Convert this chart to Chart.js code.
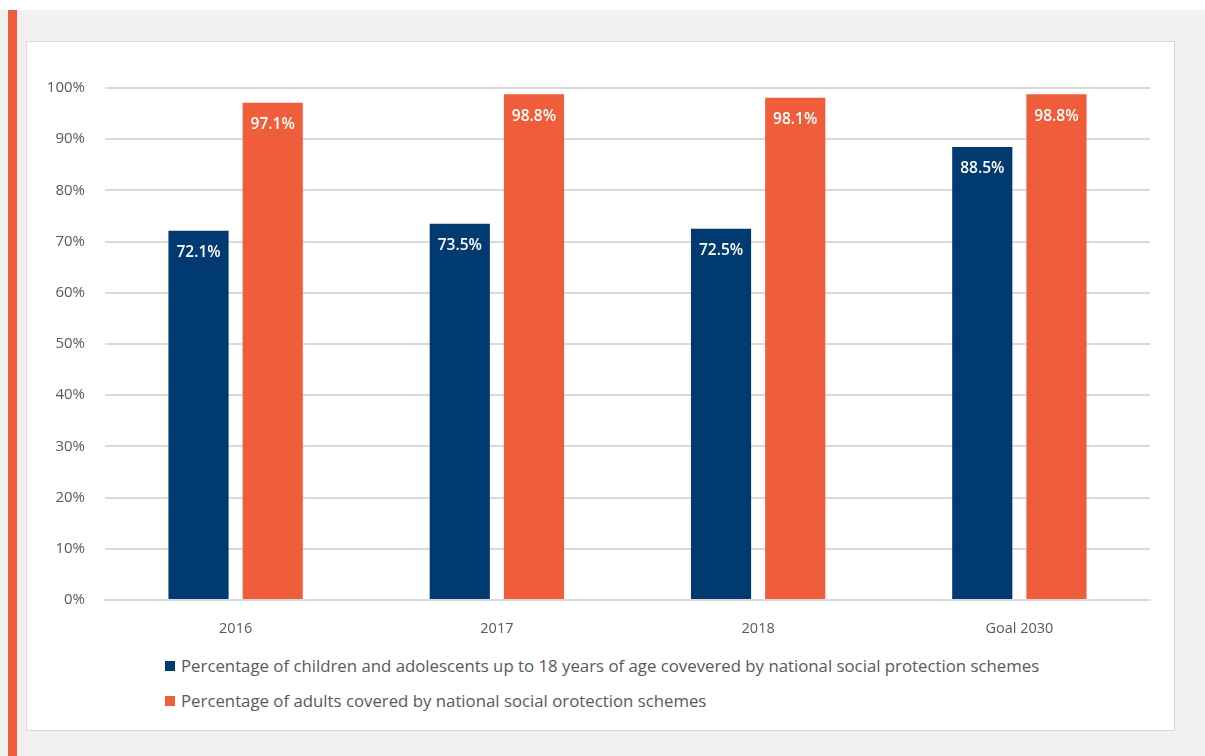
<!DOCTYPE html>
<html>
<head>
<meta charset="utf-8">
<script src="https://cdn.jsdelivr.net/npm/chart.js@4.4.1/dist/chart.umd.min.js"></script>
<style>
  html, body { margin: 0; padding: 0; background: #fff; }
  body { width: 1205px; height: 756px; position: relative; overflow: hidden; font-family: "Open Sans", sans-serif; }
  #bg { position: absolute; left: 0; top: 10px; width: 1205px; height: 746px; background: #f1f1f1; }
  #accent { position: absolute; left: 8px; top: 10px; width: 9px; height: 746px; background: #f05d3b; }
  #panel { position: absolute; left: 26px; top: 41px; width: 1147px; height: 688px; background: #fff; border: 1px solid #d9d9d9; }
  #wrap { position: absolute; left: 0; top: 0; width: 1147px; height: 600px; }
  #legend { position: absolute; left: 138px; top: 606px; color: #595959; font-size: 16.8px; }
  .item { display: flex; align-items: center; height: 35px; }
  .box { width: 10px; height: 10px; margin-right: 6px; }
</style>
</head>
<body>
<div id="bg"></div>
<div id="accent"></div>
<div id="panel">
  <div id="wrap"><canvas id="c"></canvas></div>
  <div id="legend"></div>
</div>
<script>
// categorie i vrijednosti (u %)
const categories = ['2016', '2017', '2018', 'Goal 2030'];
const childrenCoverage = [72.1, 73.5, 72.5, 88.5];
const adultCoverage = [97.1, 98.8, 98.1, 98.8];
const seriesNames = [
  'Percentage of children and adolescents up to 18 years of age covevered by national social protection schemes',
  'Percentage of adults covered by national social orotection schemes'
];
const yTicks = [0, 10, 20, 30, 40, 50, 60, 70, 80, 90, 100];

const BLUE = '#003a70';
const ORANGE = '#f05d3b';

// bijele oznake unutar vrha stupca
const barLabels = {
  id: 'barLabels',
  afterDatasetsDraw(chart) {
    const ctx = chart.ctx;
    ctx.save();
    ctx.fillStyle = '#fff';
    ctx.font = '600 15.5px "Open Sans", sans-serif';
    ctx.textAlign = 'center';
    ctx.textBaseline = 'middle';
    chart.data.datasets.forEach((ds, i) => {
      chart.getDatasetMeta(i).data.forEach((bar, j) => {
        ctx.fillText(ds.data[j].toFixed(1) + '%', bar.x, bar.y + 22);
      });
    });
    ctx.restore();
  }
};

const chart = new Chart(document.getElementById('c'), {
  type: 'bar',
  data: {
    labels: categories,
    datasets: [
      { label: seriesNames[0], data: childrenCoverage, backgroundColor: BLUE },
      { label: seriesNames[1], data: adultCoverage, backgroundColor: ORANGE }
    ]
  },
  options: {
    responsive: true,
    maintainAspectRatio: false,
    animation: false,
    layout: { padding: { top: 46, right: 24, left: 0, bottom: 0 } },
    datasets: { bar: { categoryPercentage: 0.568, barPercentage: 0.811 } },
    plugins: {
      legend: { display: false },
      tooltip: { enabled: false }
    },
    scales: {
      x: {
        grid: { display: false },
        border: { color: '#d9d9d9', width: 2 },
        ticks: { color: '#595959', font: { size: 14.5, family: 'Open Sans' }, padding: 12 },
        afterFit: s => { s.height = 42; }
      },
      y: {
        min: 0, max: 100,
        afterBuildTicks: s => { s.ticks = yTicks.map(v => ({ value: v })); },
        grid: { color: '#d9d9d9', lineWidth: 2, drawTicks: false },
        border: { display: false },
        ticks: {
          color: '#595959', font: { size: 15, family: 'Open Sans' }, padding: 20,
          callback: v => v + '%'
        },
        afterFit: s => { s.width = 78; }
      }
    }
  },
  plugins: [barLabels]
});

// legenda lijevo poravnata, svaka serija u svom redu
const legend = document.getElementById('legend');
chart.data.datasets.forEach(ds => {
  const row = document.createElement('div');
  row.className = 'item';
  row.innerHTML = '<span class="box" style="background:' + ds.backgroundColor + '"></span><span>' + ds.label + '</span>';
  legend.appendChild(row);
});
</script>
</body>
</html>
